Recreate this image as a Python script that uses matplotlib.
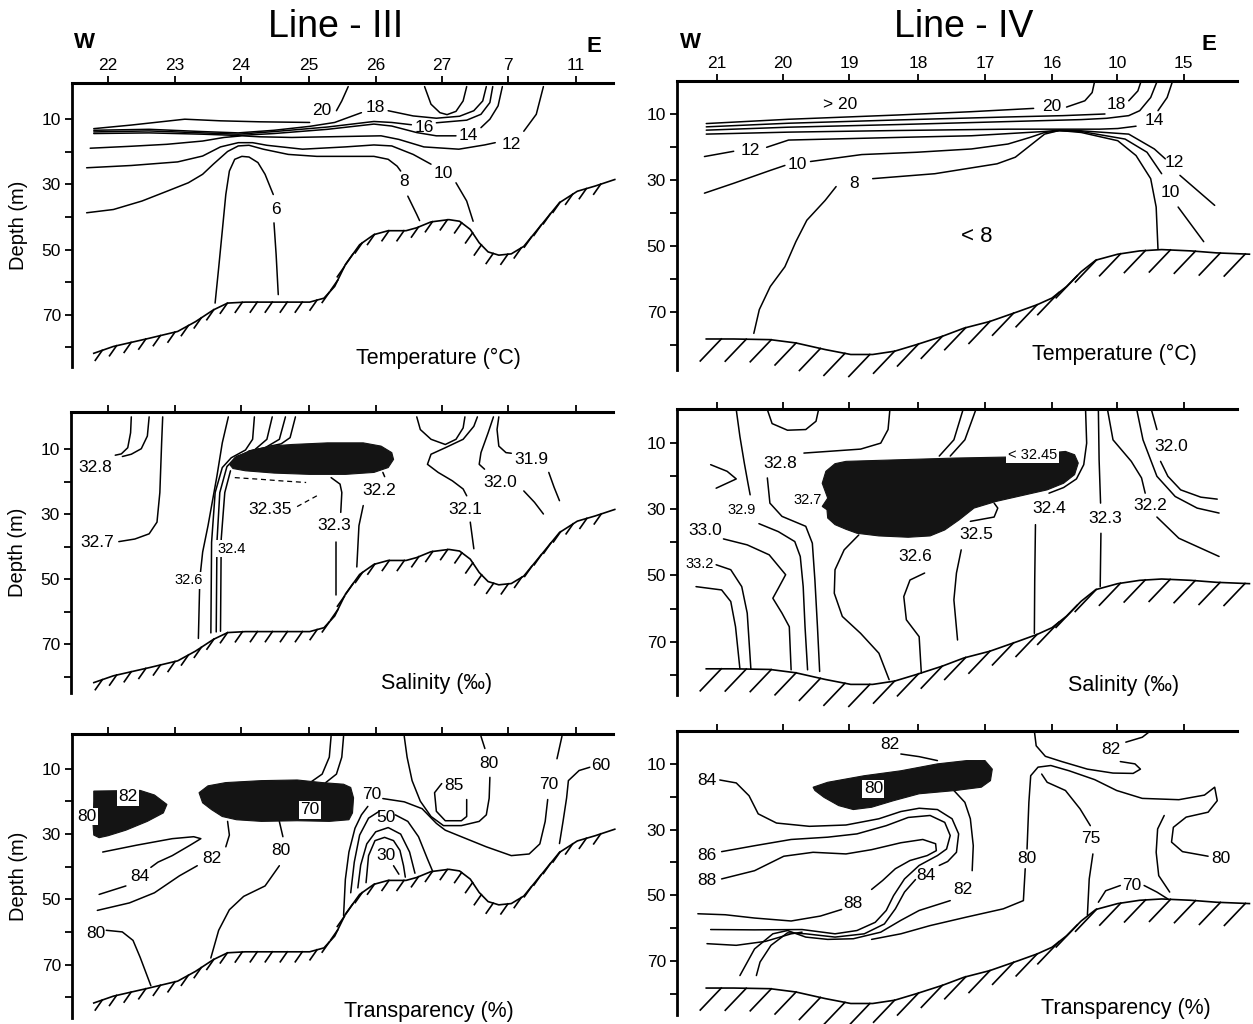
import matplotlib
matplotlib.use("Agg")
import matplotlib.pyplot as plt
import numpy as np

plt.rcParams['font.family'] = ['Liberation Sans', 'DejaVu Sans']

# ---- stations along the top (distance units along the section) ----
STATIONS_III = ["22", "23", "24", "25", "26", "27", "7", "11"]
STATION_X_III = [13.5, 32.2, 50.8, 69.7, 88.5, 107.0, 125.5, 144.5]
STATIONS_IV = ["21", "20", "19", "18", "17", "16", "10", "15"]
STATION_X_IV = [10.5, 28.5, 46.5, 65.5, 83.8, 102.0, 119.8, 138.0]
DEPTH_TICKS = [10, 30, 50, 70]
DEPTH_MINOR = [20, 40, 60, 80]

# ---- sea floor (distance, depth m) ----
FLOOR_III_X = [9.5, 15, 25, 33, 38, 43, 47, 52, 60, 70, 74, 77, 80, 84, 88, 92, 97, 100, 104, 109,
               112, 115, 117.5, 120, 123, 126.5, 130, 135, 140, 145, 150, 155.5]
FLOOR_III_D = [81.8, 79.7, 77.2, 75.1, 72.1, 68.5, 66.4, 66.1, 66.1, 66.1, 64.9, 61.3, 54.6, 48.5, 45.4,
               44.2, 44.2, 43.3, 41.5, 40.8, 41.3, 43.8, 47.9, 50.7, 51.7, 51.3, 49.0, 42.3, 35.6, 32.1,
               30.5, 28.5]
FLOOR_IV_X = [7.5, 15, 25, 32, 40, 47, 53, 59, 65, 72, 78, 85, 93, 98, 102, 106, 110, 114, 120, 126,
              132, 140, 147, 156]
FLOOR_IV_D = [78.2, 78.2, 78.4, 79.4, 81.4, 82.9, 82.9, 81.9, 79.9, 77.4, 74.9, 72.9, 69.8, 67.8, 65.8,
              62.3, 57.8, 54.3, 52.5, 51.5, 51.1, 51.5, 52.1, 52.5]

# ---- Line III temperature isolines ----
T3_20A = [(9.5, 12.9), (20, 11.8), (35, 10.0), (45, 10.5), (56, 10.8), (70, 11.0)]
T3_20B = [(77.5, 7.4), (79, 4.4), (80.8, 0.0)]
T3_18A = [(9.5, 13.4), (25, 13.1), (40, 13.8), (50, 14.2), (60, 13.4), (70, 12.2), (77, 11.0), (84.5, 8.0)]
T3_18B = [(92, 7.4), (99, 9.0), (105.5, 9.7), (112, 9.1), (116, 7.4), (118.5, 4.4), (119.5, 0.0)]
T3_16A = [(9.5, 13.9), (25, 13.6), (40, 14.2), (50, 14.6), (60, 13.8), (75, 12.4), (88, 10.7), (93, 11.0),
          (98.5, 11.7)]
T3_16B = [(105.5, 11.1), (114, 10.3), (118, 8.5), (120.5, 4.9), (121.3, 0.0)]
T3_14A = [(9.5, 14.4), (25, 14.2), (40, 14.6), (50, 15.0), (60, 14.4), (75, 13.1), (88, 11.5), (93, 12.1),
          (100, 14.1), (105.5, 15.1), (111, 15.1)]
T3_14B = [(118, 12.6), (120.5, 10.0), (122.8, 5.9), (124, 0.0)]
T3_12A = [(8.5, 18.9), (20, 18.3), (30, 17.7), (40, 16.7), (46, 15.6), (51, 15.1), (56, 15.4), (65, 15.6),
          (80, 15.3), (90, 15.1), (95, 16.2), (102, 18.5), (111.8, 19.2), (119, 17.9), (122, 17.2)]
T3_12B = [(130, 13.7), (133.5, 8.5), (135.5, 0.0)]
T3_10A = [(7.5, 24.9), (20, 24.2), (33, 23.1), (40, 21.3), (45, 18.5), (50, 17.2), (54, 17.2), (58, 18.0),
          (68, 19.2), (80, 18.5), (88, 17.9), (93, 18.2), (99, 20.8), (104, 23.8)]
T3_10B = [(111, 29.5), (114, 35.1), (115.8, 41.3)]
T3_08A = [(7.5, 38.7), (15, 37.7), (23, 35.1), (30, 32.1), (36, 29.5), (40, 26.9), (43, 23.8), (47, 19.9),
          (50, 18.2), (53, 18.0), (57, 19.2), (64, 20.8), (72, 21.4), (88, 21.4), (92, 22.3), (94.5, 24.4),
          (95.5, 25.9)]
T3_08B = [(97.5, 33.6), (100, 39.2), (100.8, 41.1)]
T3_06A = [(43.5, 66.4), (44.5, 55.6), (45.5, 44.4), (46.5, 33.1), (47.5, 25.9), (49, 22.3), (51, 21.4),
          (53, 21.6), (55.5, 23.3), (57.5, 26.9), (59.2, 31.5), (59.8, 33.1)]
T3_06B = [(60, 41.8), (60.6, 51.5), (61.2, 63.8)]
T3_LOOP = [(102.2, 0.0), (104, 5.4), (106.5, 8.0), (108.5, 8.6), (111, 7.6), (113, 4.4), (114, 0.0)]
T3_LABELS = [("20", 73.5, 7.4), ("18", 88.5, 6.4), ("16", 102, 12.6), ("14", 114.5, 15.1),
             ("12", 126.5, 17.7), ("10", 107.5, 26.6), ("8", 96.5, 29.0), ("6", 60.5, 37.7)]

# ---- Line III salinity ----
S3_BLOB = [(47.5, 14.6), (49, 12.6), (53, 10.5), (59, 9.0), (65, 8.5), (75, 8.0), (85, 8.0), (90, 9.0),
           (93, 11.0), (93.5, 13.1), (92, 15.6), (88, 17.1), (80, 17.7), (70, 17.7), (60, 17.3), (52, 16.6),
           (48.5, 15.9)]
S3_28A = [(20, 0), (19.8, 4.9), (19, 9.5), (17.2, 11.4), (15.5, 11.8)]
S3_28B = [(25, 0), (24.5, 5.9), (22.8, 9.8), (20, 11.5), (17.5, 12.2)]
S3_27 = [(28.8, 0), (28.5, 8.0), (28, 23.3), (27.2, 32.4), (25, 36.0), (21, 37.6), (16.5, 38.4)]
S3_26 = [(47.2, 0), (45.5, 8.0), (44, 18.2), (41.5, 33.5), (40, 41.6), (39.2, 49.8), (38.8, 68.2)]
S3_24A = [(54.5, 0), (54, 6.9), (52, 10.2), (48, 12.6), (45.5, 15.6), (43.5, 23.3), (42.5, 38.6), (42.3, 66.5)]
S3_24B = [(59.5, 0), (58, 6.9), (54.5, 10.2), (49.5, 12.2), (46.8, 15.3), (44.8, 23.3), (44, 38.6), (43.8, 66.2)]
S3_24C = [(63.2, 0), (61.5, 6.9), (57.5, 9.5), (53, 10.5)]
S3_24D = [(66, 0), (64.5, 6.4), (62, 8.3), (59, 9.0)]
S3_24E = [(47.8, 16.6), (46.2, 23.3), (45.2, 37.6), (45, 66.0)]
S3_235A = [(49, 18.7), (56, 19.2), (62, 19.7), (69, 20.2)]
S3_235B = [(72, 24.3), (66, 27.9)]
S3_23A = [(76, 18.7), (78.5, 20.7), (79, 23.3), (78.7, 29.4)]
S3_23B = [(77.5, 38.6), (77.5, 54.9)]
S3_22A = [(90.5, 17.1), (91, 18.4)]
S3_22B = [(85, 27.3), (83.8, 33.5), (83.2, 46.2)]
S3_LOOP = [(100, 0), (101, 3.9), (104, 6.9), (108, 8.5), (111, 6.9), (113, 3.4), (113.5, 0)]
S3_21A = [(117, 0), (116, 2.9), (113, 6.9), (108, 9.5), (104, 11.5), (103, 14.6), (106, 17.1), (110, 19.7),
          (113, 22.2), (114, 24.3)]
S3_21B = [(115, 32.4), (116, 40.6)]
S3_20A = [(121.5, 0), (120, 4.9), (118, 11.0), (117.5, 14.6), (119, 16.1)]
S3_20B = [(130, 22.8), (133, 26.3), (135.5, 29.9)]
S3_19A = [(123, 0), (122.5, 3.9), (123, 9.0), (125, 11.0), (126.5, 11.2)]
S3_19B = [(137, 17.1), (138.5, 21.7), (140, 25.8)]
S3_LABELS = [("32.8", 10, 15.6), ("32.7", 10.5, 38.6), ("32.35", 59, 28.4), ("32.3", 77, 33.5),
             ("32.2", 89.5, 22.8), ("32.1", 113.5, 28.4), ("32.0", 123.5, 20.2), ("31.9", 132, 13.1)]
S3_SMALL_LABELS = [("32.6", 36.0, 50.3), ("32.4", 48.0, 40.6)]

# ---- Line III transparency ----
P3_BLOB1 = [(9.5, 16.8), (22.5, 16.6), (26.5, 18.0), (30, 20.9), (29, 23.5), (24.5, 26.1), (18.5, 28.8),
            (13.5, 30.5), (11, 31.1), (9.5, 30.3), (9.3, 27.2), (9.5, 19.9)]
P3_BLOB2 = [(39, 17.3), (41.5, 15.2), (46.5, 14.2), (56.5, 13.6), (66.5, 13.4), (73.5, 14.2), (79.5, 14.7),
            (81.5, 15.7), (82.3, 18.9), (82, 23.5), (81, 25.6), (75.5, 26.1), (66.5, 25.9), (56.5, 26.1),
            (49.5, 25.6), (45.5, 24.6), (42.5, 22.5), (40, 20.4)]
P3_TOPA = [(76, 0), (75.5, 6.4), (73.5, 11.6), (70.5, 13.9)]
P3_TOPB = [(79.5, 0), (79, 6.4), (77.5, 11.6), (74.5, 14.2)]
P3_84A = [(12, 35.5), (21.5, 33.4), (31.5, 31.4), (37.5, 30.8), (39.5, 31.4), (36.5, 33.4), (31.5, 36.6),
          (27.5, 38.6), (25.5, 40.2)]
P3_84B = [(18.5, 45.9), (11, 48.5)]
P3_82A = [(47, 26.1), (47.5, 30.3), (46.5, 33.9)]
P3_82B = [(38.5, 39.7), (33.5, 42.8), (26.5, 48.0), (19.5, 51.1), (10.5, 53.4)]
P3_80MA = [(61.5, 26.1), (62.5, 30.8)]
P3_80MB = [(61.5, 39.7), (57.5, 45.9), (51.5, 49.1), (47.5, 53.2), (44.5, 59.5), (42.3, 68.0)]
P3_80L = [(13, 59.5), (17.5, 60.0), (20.5, 62.6), (22.5, 67.8), (25.5, 76.5)]
P3_70A = [(79.5, 55.0), (80, 43.9), (81, 35.5), (82.7, 28.2), (84.5, 24.1), (86.3, 21.5)]
P3_70B = [(90.5, 19.1), (96.5, 20.1), (101.5, 22.2), (105.5, 26.7), (108, 28.8), (112.5, 30.8),
          (119.5, 33.9), (126.5, 36.6), (131.5, 36.1), (134.5, 33.0), (136, 26.1), (136.7, 19.4)]
P3_70C = [(139.3, 6.9), (140.7, 0)]
P3_50A = [(81.5, 48.0), (82.5, 38.6), (84, 30.3), (86.5, 25.1), (89.5, 23.0)]
P3_50B = [(94, 24.1), (97.5, 26.1), (100.5, 30.8), (103, 37.6), (104.5, 41.5)]
P3_40 = [(83.5, 46.5), (84.3, 39.5), (86, 33.0), (88.5, 29.3), (92, 28.0), (95.5, 30.0), (98, 35.5),
         (99.5, 42.0)]
P3_30 = [(85.8, 44.9), (86.5, 36.6), (88.3, 32.0), (91, 31.0), (93.5, 32.0), (95.3, 35.0), (96.3, 39.7),
         (96.8, 43.2)]
P3_30T = [(93.5, 39.7), (95, 42.3)]
P3_85 = [(107, 14.5), (105, 17.3), (105.5, 23.0), (108, 25.9), (112.5, 25.9), (114, 24.6), (114, 19.4)]
P3_80UA = [(96.5, 0), (97.3, 6.4), (98.7, 13.6), (101, 19.9), (104, 24.6), (107.5, 27.4), (112.5, 27.4),
           (117.5, 26.1), (119.5, 24.1), (120.3, 19.0), (120.5, 12.6)]
P3_80UB = [(119.1, 3.75), (118, 0)]
P3_60 = [(140, 32.9), (141, 26.1), (142, 18.9), (142.5, 13.6), (145.5, 10.5), (148.5, 9.5)]
P3_LABELS = [("84", 22.5, 43.0), ("82", 42.5, 37.6), ("80", 62, 35.0), ("80", 10, 60.5), ("70", 87.5, 18.0),
             ("50", 91.5, 24.9), ("30", 91.5, 36.6), ("85", 110.5, 15.2), ("80", 120.3, 8.2),
             ("70", 137, 14.9), ("60", 151.5, 9.0)]
P3_BOX_LABELS = [("82", 19, 18.6), ("80", 7.7, 24.6), ("70", 70, 22.5)]

# ---- Line IV temperature ----
T4_20A = [(7.5, 12.9), (30, 11.6), (60, 10.3), (80, 9.3), (97, 8.3)]
T4_20B = [(106, 7.9), (111, 6.0), (113, 3.5), (113.7, 0)]
T4_18A = [(7.5, 13.9), (30, 12.8), (60, 11.8), (90, 10.9), (105, 10.5), (116.5, 10.0)]
T4_18B = [(123, 6.0), (125.5, 3.0), (126.4, 0)]
T4_16 = [(7.5, 14.9), (30, 14.0), (60, 13.2), (90, 12.3), (110, 11.7), (117, 11.3), (123, 10.5), (126, 9.0),
         (129, 5.0), (130.8, 0)]
T4_14A = [(7.5, 16.1), (30, 15.5), (60, 15.0), (90, 14.6), (104, 14.6), (115, 14.6), (120, 14.4), (125, 13.7)]
T4_14B = [(131, 9.0), (133.5, 5.0), (135, 0)]
T4_12A = [(7, 22.9), (15, 21.3)]
T4_12B = [(24, 20.1), (30, 17.9), (60, 17.1), (80, 16.6), (100, 15.3), (104, 14.9), (110, 15.1), (123, 16.1),
          (130, 20.6), (133, 23.6)]
T4_12C = [(137, 28.6), (146.5, 37.7)]
T4_10A = [(7, 34.0), (15, 31.0), (25, 27.1), (29, 25.6)]
T4_10B = [(36, 24.4), (50, 22.3), (65, 21.6), (80, 20.6), (90, 19.1), (96, 17.1), (100, 15.6), (104, 15.1),
          (110, 15.3), (122, 17.6), (128, 21.6), (132, 28.1)]
T4_10C = [(136.5, 38.2), (143.5, 48.7)]
T4_08A = [(20.5, 76.5), (22, 69.3), (25, 62.3), (29, 56.3), (32, 48.7), (35, 42.2), (40, 36.2), (43, 32.0)]
T4_08B = [(53, 29.6), (70, 28.1), (87, 25.1), (92, 23.1), (96, 19.6), (100, 16.1), (104, 15.0), (110, 15.6),
          (120, 18.1), (125, 22.6), (129, 29.6), (130.5, 38.2), (131, 51.0)]
T4_LABELS = [("> 20", 44, 7.0), ("20", 102, 7.6), ("18", 119.5, 7.0), ("14", 130, 12.1), ("12", 19.5, 21.1),
             ("12", 135.5, 24.8), ("10", 32.5, 25.4), ("10", 134.5, 33.7), ("8", 48, 31.2)]
T4_BIG_LABEL = ("< 8", 81.5, 47.2)

# ---- Line IV salinity ----
S4_BLOB = [(39.2, 22.2), (40.2, 18.6), (42.7, 16.3), (45.7, 15.6), (60.7, 15.1), (75.7, 14.6), (89.7, 14.3),
           (105.7, 12.6), (108.2, 13.6), (109.2, 16.1), (108.2, 19.6), (105.2, 22.2), (100.7, 24.2),
           (92.7, 26.2), (86.7, 27.7), (80.7, 29.7), (76.7, 33.2), (72.7, 36.3), (68.7, 38.1), (62.7, 38.5),
           (54.7, 38.1), (48.7, 37.3), (45.7, 36.1), (42.7, 34.7), (40.7, 32.7), (40.5, 30.2), (39.2, 29.2),
           (40.7, 26.7)]
S4_LOOP = [(24.2, 0), (25.5, 4.2), (29.7, 6.2), (34.7, 6.0), (37.5, 3.5), (38.2, 0)]
S4_BUMP = [(8.7, 16.6), (13.2, 18.6), (15.7, 20.9), (10.2, 23.7)]
S4_29A = [(15.7, 0), (16.7, 8.1), (17.9, 16.1), (18.9, 22.2), (19.5, 25.7)]
S4_29B = [(21.9, 34.4), (27.2, 36.8), (31.7, 39.8), (33.2, 44.3), (34, 53.4), (34.5, 65.5), (35.2, 78.5)]
S4_28A = [(57.7, 0), (57.2, 6.0), (55.2, 10.1), (49.7, 11.9), (40.7, 12.6), (34.2, 13.1)]
S4_28B = [(24.2, 20.6), (24.9, 28.2), (28.2, 32.2), (34.7, 35.2), (36.5, 40.3), (37.2, 51.4), (37.9, 65.5),
          (38.5, 79.0)]
S4_330 = [(12.2, 39.0), (18.7, 40.8), (24.7, 43.8), (29.2, 49.8), (27.2, 53.9), (25.7, 56.9), (28.2, 61.4),
          (30.2, 65.5), (30.7, 78.5)]
S4_332 = [(10.2, 46.8), (14.2, 48.3), (17.2, 53.4), (18.7, 61.4), (19.7, 78.3)]
S4_OUT = [(4.7, 53.4), (11.7, 54.4), (14.2, 57.9), (15.5, 65.5), (16.7, 78.2)]
S4_27 = [(49.2, 37.8), (45.2, 42.3), (42.7, 48.3), (42.5, 55.4), (44.7, 62.4), (49.7, 67.5), (54.7, 73.5),
         (57.5, 81.5)]
S4_26 = [(67.2, 49.3), (63.2, 51.4), (61.5, 56.4), (62.2, 63.4), (65.7, 68.5), (66.3, 79.5)]
S4_25A = [(79.7, 33.7), (86.2, 32.4), (87.2, 29.7), (86.2, 28.2)]
S4_25B = [(77.2, 42.3), (75.9, 49.3), (75.2, 57.4), (76.2, 69.5)]
S4_TOPA = [(77.7, 0), (75.2, 9.1), (71.2, 14.0)]
S4_TOPB = [(81.2, 0), (78.2, 9.1), (74.2, 14.0)]
S4_24A = [(111.2, 0), (111.5, 10.1), (110.7, 16.6), (108.7, 20.9), (105.2, 23.5), (101.2, 25.2)]
S4_24B = [(97.5, 34.7), (97.3, 51.4), (97.2, 67.5)]
S4_23A = [(114.7, 0), (114.9, 15.1), (115.3, 28.2)]
S4_23B = [(115.4, 37.3), (115.2, 53.4)]
S4_22A = [(117.2, 0), (118.7, 9.1), (123.7, 15.6), (126.5, 20.6), (127.5, 25.2)]
S4_22B = [(130.7, 32.4), (136.7, 38.8), (147.7, 44.3)]
S4_21 = [(125.2, 0), (126.9, 9.1), (130.7, 20.1), (135.7, 26.2), (141.7, 29.7), (147.7, 31.2)]
S4_20A = [(129.2, 0), (130.7, 6.0)]
S4_20B = [(131.7, 15.6), (133.7, 20.1), (137.2, 24.2), (142.7, 26.4), (147.2, 27.0)]
S4_LABELS = [("32.8", 27.7, 16.3), ("33.0", 7.2, 36.5), ("32.6", 64.7, 44.3), ("32.5", 81.2, 37.8),
             ("32.4", 101.2, 29.7), ("32.3", 116.7, 32.7), ("32.2", 129, 28.9), ("32.0", 134.7, 11.1)]
S4_SMALL_LABELS = [("32.9", 17.2, 30.4), ("33.2", 5.7, 46.5), ("32.7", 35.2, 27.2)]
S4_BOX_LABEL = ("< 32.45", 96.7, 13.6)

# ---- Line IV transparency ----
P4_BLOB = [(36.7, 17.1), (40.7, 15.6), (50.7, 13.6), (60.7, 12.1), (70.7, 10.0), (78.7, 9.0), (83.7, 9.0),
           (85.7, 11.6), (85.2, 15.1), (82.7, 17.1), (75.7, 18.1), (65.7, 19.1), (58.7, 21.2), (52.7, 23.2),
           (47.7, 23.9), (43.7, 22.7), (39.7, 20.2), (37.2, 18.1)]
P4_82A = [(60.7, 7.0), (65.7, 7.8), (70.7, 9.0)]
P4_82B = [(75.2, 18.1), (78.2, 21.7), (79.7, 26.7), (80.5, 34.9), (80.2, 42.5)]
P4_82C = [(74.2, 51.6), (65.7, 54.6), (60.7, 57.6), (55.2, 61.2), (47.7, 63.2), (40.7, 63.4), (34.7, 62.7),
          (29.7, 60.7), (25.7, 61.7), (20.7, 66.3), (16.7, 74.4)]
P4_84A = [(11.2, 14.9), (15.7, 15.8), (19.2, 19.7), (21.7, 25.2), (26.7, 28.0), (35.7, 29.0), (45.7, 28.6),
          (54.7, 26.7), (60.7, 24.5), (65.7, 23.5), (70.7, 23.9), (74.7, 26.7), (76.5, 31.3), (75.9, 36.9),
          (73.5, 39.7), (71.2, 40.9)]
P4_84B = [(64.7, 45.2), (61.7, 49.0), (59.2, 54.1), (56.2, 58.7), (50.7, 61.7), (42.7, 62.7), (34.7, 61.7),
          (29.7, 61.4), (25.2, 65.2), (22.2, 70.3), (21.2, 74.4)]
P4_86 = [(11.7, 36.7), (20.7, 34.9), (30.7, 33.0), (40.7, 32.3), (48.7, 31.3), (56.7, 28.8), (62.7, 26.3),
         (68.7, 25.7), (72.7, 27.8), (74.2, 31.8), (73.2, 35.9), (70.7, 37.9), (65.7, 40.9), (61.7, 45.0),
         (58.7, 50.1), (56.7, 54.6), (53.7, 58.2), (48.7, 60.7), (42.7, 61.7), (33.7, 60.4), (20.7, 60.5),
         (8.7, 60.4)]
P4_88A = [(11.7, 45.0), (20.7, 42.5), (28.7, 38.1), (36.7, 36.9), (45.7, 37.4), (52.7, 36.1), (60.7, 34.0),
          (66.7, 33.0), (70.2, 34.3), (70.4, 36.4), (67.9, 37.9), (63.2, 39.4), (59.2, 41.9), (55.7, 45.5),
          (52.7, 48.2)]
P4_88B = [(44.5, 54.3), (38.7, 56.3), (30.7, 57.8), (20.7, 56.9), (12.7, 55.9), (5.2, 55.6)]
P4_LOW = [(7.7, 64.7), (15.7, 65.2), (23.7, 64.0), (30.7, 61.7), (33.7, 61.2)]
P4_82R = [(122.2, 3.4), (126.7, 1.9), (128.9, 0)]
P4_LOOP = [(97.2, 0), (97.7, 4.5), (100.2, 7.7), (104.7, 9.3), (111.7, 11.6), (118.7, 12.8), (124.2, 12.9),
           (126.2, 11.6), (124.7, 10.0), (120.7, 9.3)]
P4_80A = [(94.7, 41.9), (94.2, 51.6), (88.7, 54.1), (78.7, 56.6), (68.7, 59.2), (60.7, 61.7), (52.7, 63.4)]
P4_80B = [(95.2, 35.9), (95.7, 21.7), (96.2, 13.6), (98.2, 11.0), (101.7, 10.5), (106.7, 12.1), (113.7, 14.8),
          (119.7, 18.1), (126.7, 20.5), (136.7, 20.9), (143.7, 19.5), (146.5, 17.1), (147.2, 21.2),
          (144.7, 24.7), (138.7, 26.2), (135.2, 29.3), (134.7, 33.8), (137.7, 36.7), (144.7, 38.1)]
P4_75A = [(99.2, 13.1), (100.7, 15.6), (105.7, 18.1), (109.7, 23.7), (112.5, 28.8)]
P4_75B = [(113.2, 37.4), (112.2, 45.0), (111.7, 56.0)]
P4_RLOW = [(134.2, 49.0), (131.2, 44.0), (130.5, 36.9), (130.9, 29.8), (132.7, 25.7)]
P4_70A = [(114.7, 52.1), (116.7, 48.6), (120.7, 47.0)]
P4_70B = [(127.2, 47.0), (130.7, 49.0), (133.7, 51.1)]
P4_LABELS = [("82", 57.7, 4.0), ("84", 7.7, 15.1), ("86", 7.7, 37.9), ("88", 7.7, 45.5), ("88", 47.7, 52.6),
             ("84", 67.5, 44.0), ("82", 77.7, 48.2), ("80", 95.2, 38.9), ("75", 112.7, 32.8),
             ("82", 118.2, 5.7), ("80", 148.2, 38.9), ("70", 123.7, 47.0)]
P4_BOX_LABELS = [("80", 53.2, 17.6)]

W, H = 1253, 1024
fig = plt.figure(figsize=(W / 100, H / 100), dpi=100)


def panel(box, xlim, ylim, stations=None, xs=None):
    left, top, right, bottom = box
    ax = fig.add_axes([left / W, 1 - bottom / H, (right - left) / W, (bottom - top) / H])
    ax.set_xlim(*xlim)
    ax.set_ylim(*ylim)
    ax.set_facecolor('none')
    for s in ('right', 'bottom'):
        ax.spines[s].set_visible(False)
    ax.spines['left'].set_linewidth(2.0)
    ax.spines['top'].set_linewidth(2.2)
    ax.xaxis.tick_top()
    ax.set_xticks(xs)
    if stations:
        ax.set_xticklabels(stations, fontsize=12.5)
    else:
        ax.set_xticklabels([])
    ax.tick_params(axis='x', direction='out', length=5, width=1.3, pad=2)
    ax.set_yticks(DEPTH_TICKS)
    ax.set_yticks(DEPTH_MINOR, minor=True)
    ax.set_yticklabels([str(v) for v in DEPTH_TICKS], fontsize=12.5)
    ax.tick_params(axis='y', which='both', direction='out', length=5, width=1.3, pad=3)
    return ax


def draw(ax, pts, **kw):
    x, d = zip(*pts)
    ax.plot(x, d, color='k', lw=kw.pop('lw', 1.1), solid_capstyle='round', **kw)


def blob(ax, pts):
    x, d = zip(*pts)
    ax.fill(x, d, color='#141414', lw=0.8, zorder=3)


def floor(ax, xs, ds, step, vec):
    ax.plot(xs, ds, color='k', lw=1.2, clip_on=False)
    pts = ax.transData.transform(np.column_stack([xs, ds]))
    seg = np.hypot(*np.diff(pts, axis=0).T)
    s = np.concatenate([[0], np.cumsum(seg)])
    inv = ax.transData.inverted()
    for si in np.arange(step * 0.6, s[-1], step):
        px = np.interp(si, s, pts[:, 0])
        py = np.interp(si, s, pts[:, 1])
        a = inv.transform([[px, py], [px + vec[0], py + vec[1]]])
        ax.plot(a[:, 0], a[:, 1], color='k', lw=1.2, clip_on=False)


def labels(ax, items, size=12.5, box=False):
    for txt, x, d in items:
        kw = {}
        if box:
            kw['bbox'] = dict(facecolor='white', edgecolor='none', pad=1.0)
        ax.text(x, d, txt, ha='center', va='center', fontsize=size, zorder=6, **kw)


def caption(ax, txt, x, d):
    ax.text(x, d, txt, ha='center', va='center', fontsize=15.5)


def depth_label(ax):
    ax.text(-0.098, 0.5, "Depth (m)", rotation=90, ha='center', va='center', fontsize=14.5,
            transform=ax.transAxes)


# ---------- Line III ----------
ax = panel((72, 83, 613, 367), (3.4, 155), (86.0, -1.1), STATIONS_III, STATION_X_III)
for ln in [T3_20A, T3_20B, T3_18A, T3_18B, T3_16A, T3_16B, T3_14A, T3_14B, T3_12A, T3_12B,
           T3_10A, T3_10B, T3_08A, T3_08B, T3_06A, T3_06B, T3_LOOP]:
    draw(ax, ln)
floor(ax, FLOOR_III_X, FLOOR_III_D, 15, (-7, -10))
labels(ax, T3_LABELS)
caption(ax, "Temperature (°C)", 106, 83.5)
depth_label(ax)

ax = panel((71, 412, 613, 693), (3.1, 155), (85.0, -1.5), None, STATION_X_III)
blob(ax, S3_BLOB)
for ln in [S3_28A, S3_28B, S3_27, S3_26, S3_24A, S3_24B, S3_24C, S3_24D, S3_24E, S3_23A, S3_23B,
           S3_22A, S3_22B, S3_LOOP, S3_21A, S3_21B, S3_20A, S3_20B, S3_19A, S3_19B]:
    draw(ax, ln)
for ln in [S3_235A, S3_235B]:
    draw(ax, ln, ls=(0, (4, 3)), lw=0.9)
floor(ax, FLOOR_III_X, FLOOR_III_D, 15, (-7, -10))
labels(ax, S3_LABELS)
labels(ax, S3_SMALL_LABELS, size=10.5, box=True)
caption(ax, "Salinity (‰)", 105.5, 82.0)
depth_label(ax)

ax = panel((72, 734, 613, 1018), (3.4, 155), (86.4, -0.7), None, STATION_X_III)
blob(ax, P3_BLOB1)
blob(ax, P3_BLOB2)
for ln in [P3_TOPA, P3_TOPB, P3_84A, P3_84B, P3_82A, P3_82B, P3_80MA, P3_80MB, P3_80L, P3_70A, P3_70B,
           P3_70C, P3_50A, P3_50B, P3_40, P3_30, P3_30T, P3_85, P3_80UA, P3_80UB, P3_60]:
    draw(ax, ln)
floor(ax, FLOOR_III_X, FLOOR_III_D, 15, (-7, -10))
labels(ax, P3_LABELS)
labels(ax, P3_BOX_LABELS, box=True)
caption(ax, "Transparency (%)", 103.5, 84.3)
depth_label(ax)

# ---------- Line IV ----------
ax = panel((677, 81, 1237, 370), (-0.5, 152.6), (87.6, 0.0), STATIONS_IV, STATION_X_IV)
for ln in [T4_20A, T4_20B, T4_18A, T4_18B, T4_16, T4_14A, T4_14B, T4_12A, T4_12B, T4_12C,
           T4_10A, T4_10B, T4_10C, T4_08A, T4_08B]:
    draw(ax, ln)
floor(ax, FLOOR_IV_X, FLOOR_IV_D, 25, (-21, -22))
labels(ax, T4_LABELS)
ax.text(T4_BIG_LABEL[1], T4_BIG_LABEL[2], T4_BIG_LABEL[0], ha='center', va='center', fontsize=16)
caption(ax, "Temperature (°C)", 119, 82.9)

ax = panel((677, 409, 1237, 695), (-0.5, 152.6), (86.1, -0.2), None, STATION_X_IV)
blob(ax, S4_BLOB)
for ln in [S4_LOOP, S4_BUMP, S4_29A, S4_29B, S4_28A, S4_28B, S4_330, S4_332, S4_OUT, S4_27, S4_26,
           S4_25A, S4_25B, S4_TOPA, S4_TOPB, S4_24A, S4_24B, S4_23A, S4_23B, S4_22A, S4_22B, S4_21,
           S4_20A, S4_20B]:
    draw(ax, ln)
floor(ax, FLOOR_IV_X, FLOOR_IV_D, 25, (-21, -22))
labels(ax, S4_LABELS)
labels(ax, S4_SMALL_LABELS, size=10.5)
labels(ax, [S4_BOX_LABEL], size=10.5, box=True)
caption(ax, "Salinity (‰)", 121.7, 83.1)

ax = panel((677, 731, 1237, 1015), (-0.5, 152.6), (86.4, 0.0), None, STATION_X_IV)
blob(ax, P4_BLOB)
for ln in [P4_82A, P4_82B, P4_82C, P4_84A, P4_84B, P4_86, P4_88A, P4_88B, P4_LOW, P4_82R, P4_LOOP,
           P4_80A, P4_80B, P4_75A, P4_75B, P4_RLOW, P4_70A, P4_70B]:
    draw(ax, ln)
floor(ax, FLOOR_IV_X, FLOOR_IV_D, 25, (-21, -22))
labels(ax, P4_LABELS)
labels(ax, P4_BOX_LABELS, box=True)
caption(ax, "Transparency (%)", 122.2, 84.5)

# titles and W/E markers
title_font = ['Liberation Sans Narrow', 'Liberation Sans', 'DejaVu Sans']
fig.text(336 / W, 1 - 27 / H, "Line - III", ha='center', va='center', fontsize=27, family=title_font)
fig.text(964 / W, 1 - 27 / H, "Line - IV", ha='center', va='center', fontsize=27, family=title_font)
for txt, x, y in [("W", 84, 43), ("E", 594, 46), ("W", 690, 43), ("E", 1209, 45)]:
    fig.text(x / W, 1 - y / H, txt, ha='center', va='center', fontsize=16, fontweight='bold')

fig.savefig("out.png", dpi=100)
